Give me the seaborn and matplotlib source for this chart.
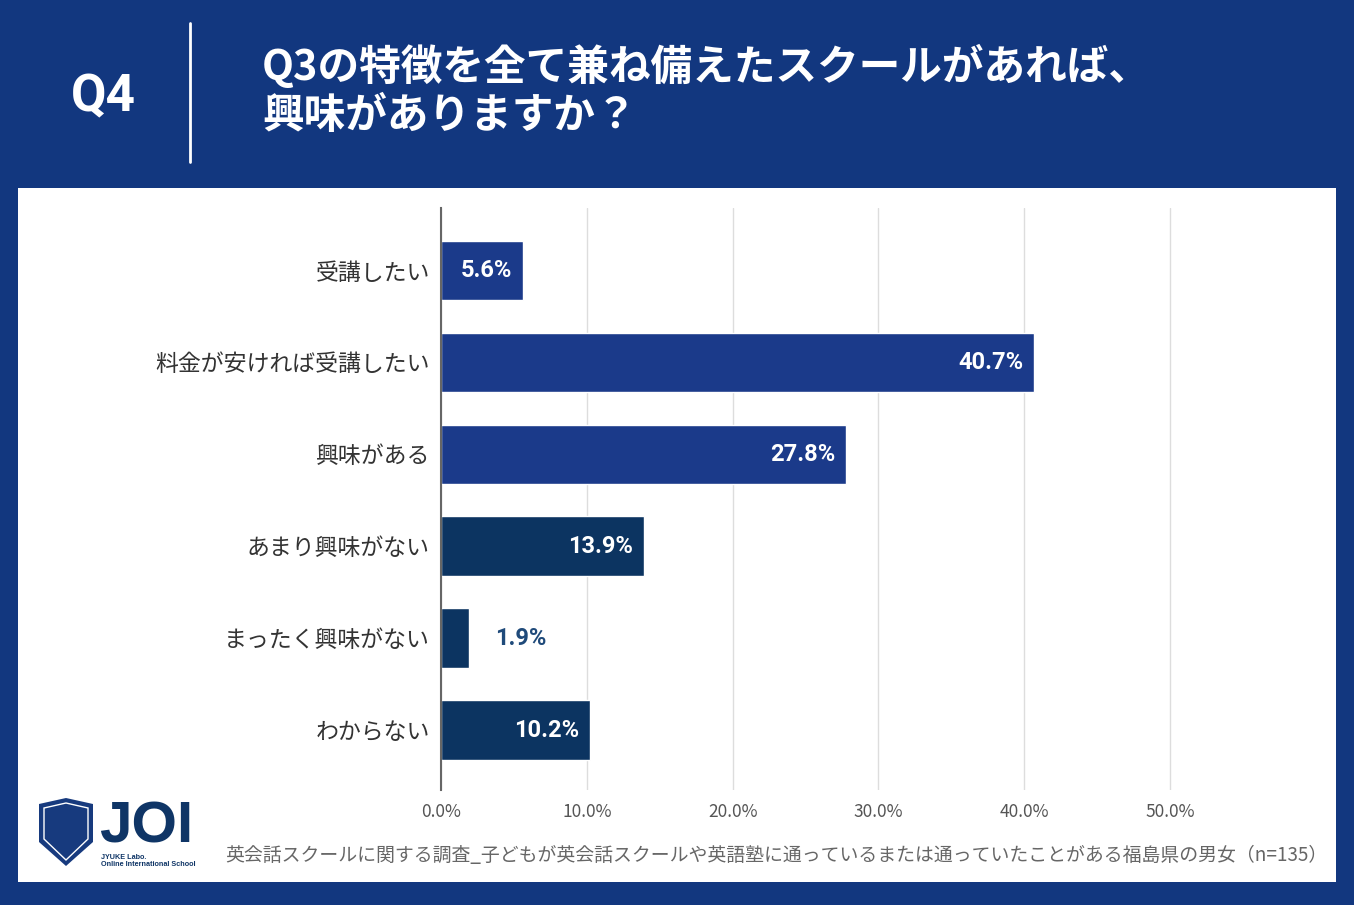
#!/usr/bin/env python3
'''
Q4 survey chart: interest in a school that has all the Q3 features
'''
import matplotlib
matplotlib.use("Agg")
import matplotlib.pyplot as plt
from matplotlib.patches import Rectangle, Polygon
import pandas as pd
import seaborn as sns

# data
categories = ["受講したい", "料金が安ければ受講したい", "興味がある",
              "あまり興味がない", "まったく興味がない", "わからない"]
values = [5.6, 40.7, 27.8, 13.9, 1.9, 10.2]
value_labels = ["5.6%", "40.7%", "27.8%", "13.9%", "1.9%", "10.2%"]
xticks = [0, 10, 20, 30, 40, 50]
xtick_labels = ["0.0%", "10.0%", "20.0%", "30.0%", "40.0%", "50.0%"]

title_lines = ["Q3の特徴を全て兼ね備えたスクールがあれば、", "興味がありますか？"]
footer = "英会話スクールに関する調査_子どもが英会話スクールや英語塾に通っているまたは通っていたことがある福島県の男女（n=135）"

NAVY = "#12377f"
BAR_TOP = "#1b3a8a"
BAR_BOTTOM = "#0c3461"
bar_colors = [BAR_TOP, BAR_TOP, BAR_TOP, BAR_BOTTOM, BAR_BOTTOM, BAR_BOTTOM]

sns.set_theme(style="white")
plt.rcParams['font.family'] = ['Noto Sans CJK JP', 'DejaVu Sans']

W, H = 1354, 905
fig = plt.figure(figsize=(W / 100, H / 100), dpi=100, facecolor=NAVY)

def px(x, y):
    return x / W, 1 - y / H

# white panel
fig.patches.append(Rectangle(px(18, 882), (1336 - 18) / W, (882 - 188) / H,
                             transform=fig.transFigure, facecolor="white",
                             edgecolor="none", zorder=-5))

# header
fig.text(*px(103, 97), "Q4", color="white", fontsize=37, fontweight="bold",
         family=["Roboto", "DejaVu Sans"], ha="center", va="center")
fig.add_artist(plt.Line2D([190 / W, 190 / W], [1 - 23 / H, 1 - 162 / H],
                          color="white", lw=2, transform=fig.transFigure))
fig.text(*px(262, 67), title_lines[0], color="white", fontsize=30,
         fontweight="bold", ha="left", va="center")
fig.text(*px(262, 116), title_lines[1], color="white", fontsize=30,
         fontweight="bold", ha="left", va="center")

# chart
x0, x1, xmax = 441, 1243, 55
ax = fig.add_axes([x0 / W, 1 - 790 / H, (x1 - x0) / W, (790 - 208) / H])
ax.set_zorder(5)
ax.patch.set_alpha(0)
df = pd.DataFrame({"category": categories, "value": values})
sns.barplot(data=df, x="value", y="category", hue="category",
            palette=bar_colors, legend=False, width=0.65, ax=ax,
            orient="h", saturation=1)
ax.set_xlim(0, xmax)
ax.set_ylim(5.65, -0.68)
ax.set_xticks(xticks)
ax.set_xticklabels(xtick_labels, color="#555555", fontsize=12.5)
ax.tick_params(axis="x", length=0, pad=9)
ax.tick_params(axis="y", length=0, pad=8, labelsize=16.5, labelcolor="#333333")
ax.set_xlabel("")
ax.set_ylabel("")
ax.grid(axis="x", color="#dddddd", lw=1)
ax.set_axisbelow(True)
for s in ["top", "right", "bottom"]:
    ax.spines[s].set_visible(False)
ax.spines["left"].set_color("#666666")
ax.spines["left"].set_linewidth(1.5)

for i, (v, lab) in enumerate(zip(values, value_labels)):
    if v < 4:
        ax.text(v + 1.8, i, lab, color="#1f4a7a", fontsize=17, fontweight="bold",
                family=["Roboto", "DejaVu Sans"], ha="left", va="center")
    else:
        ax.text(v - 0.75, i, lab, color="white", fontsize=17, fontweight="bold",
                family=["Roboto", "DejaVu Sans"], ha="right", va="center")

# footer note
fig.text(*px(1328, 855), footer, color="#666666", fontsize=13.6,
         ha="right", va="center")

# logo
logo = "#173a7e"
fig.patches.append(Polygon([px(39, 804), px(66, 798), px(93, 804), px(93, 842),
                            px(66, 866), px(39, 842)], closed=True,
                           transform=fig.transFigure, facecolor=logo,
                           edgecolor="none", zorder=2))
fig.patches.append(Polygon([px(44, 808), px(66, 803), px(88, 808), px(88, 839),
                            px(66, 860), px(44, 839)], closed=True,
                           transform=fig.transFigure, facecolor="none",
                           edgecolor="white", lw=1, zorder=3))
fig.add_artist(plt.Line2D([66 / W, 66 / W], [1 - 805 / H, 1 - 842 / H],
                          color="white", lw=1, transform=fig.transFigure))
fig.add_artist(plt.Line2D([44 / W, 88 / W], [1 - 823 / H, 1 - 823 / H],
                          color="white", lw=1, transform=fig.transFigure))
fig.add_artist(plt.Line2D([44 / W, 88 / W], [1 - 842 / H, 1 - 842 / H],
                          color="white", lw=1, transform=fig.transFigure))
fig.text(*px(99, 827), "JOI", color="#0f3566", fontsize=42, fontweight="bold",
         family=["Liberation Sans", "DejaVu Sans"], ha="left", va="center")
fig.text(*px(101, 857), "JYUKE Labo.", color="#0f3566", fontsize=5.2,
         fontweight="bold", family=["Liberation Sans", "DejaVu Sans"],
         ha="left", va="center")
fig.text(*px(101, 864), "Online International School", color="#0f3566",
         fontsize=5.2, fontweight="bold",
         family=["Liberation Sans", "DejaVu Sans"], ha="left", va="center")

fig.savefig("out.png", dpi=100, facecolor=NAVY)
